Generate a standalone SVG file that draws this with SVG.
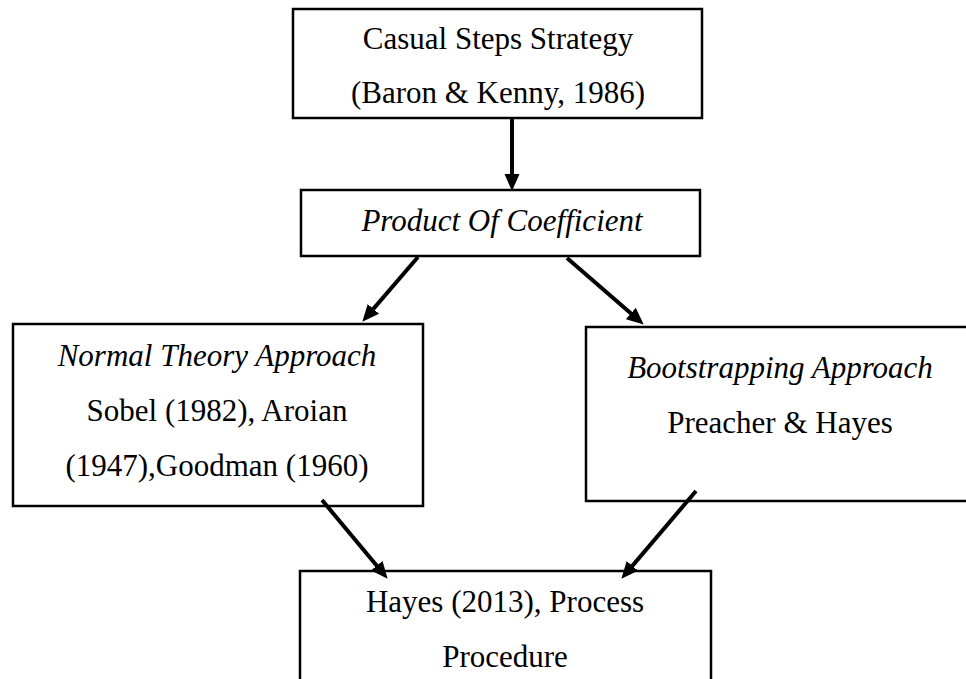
<svg xmlns="http://www.w3.org/2000/svg" width="966" height="679" viewBox="0 0 966 679">
<style>
.box{fill:#fff;stroke:#000;stroke-width:2.5}
.t{font-family:"Liberation Serif","Times New Roman",serif;font-size:31px;fill:#000;text-anchor:middle}
.i{font-style:italic}
.c{stroke:#000;stroke-width:4;fill:none}
</style>
<defs>
<marker id="ah" markerUnits="userSpaceOnUse" markerWidth="18" markerHeight="16" refX="4" refY="7.5" orient="auto" viewBox="0 0 18 15">
<path d="M0,0 L17,7.5 L0,15 z" fill="#000"/>
</marker>
</defs>
<rect width="966" height="679" fill="#fff"/>
<g id="n-casual">
<rect class="box" x="293" y="9" width="409" height="109"/>
<text class="t" x="498" y="49">Casual Steps Strategy</text>
<text class="t" x="498" y="103">(Baron &amp; Kenny, 1986)</text>
</g>
<g id="n-product">
<rect class="box" x="301" y="190" width="399" height="66"/>
<text class="t i" x="502" y="231">Product Of Coefficient</text>
</g>
<g id="n-normal">
<rect class="box" x="13" y="324" width="410" height="182"/>
<text class="t i" x="217" y="366">Normal Theory Approach</text>
<text class="t" x="217" y="421">Sobel (1982), Aroian</text>
<text class="t" x="217" y="476">(1947),Goodman (1960)</text>
</g>
<g id="n-boot">
<rect class="box" x="586" y="327" width="400" height="174"/>
<text class="t i" x="780" y="378">Bootstrapping Approach</text>
<text class="t" x="780" y="433">Preacher &amp; Hayes</text>
</g>
<g id="n-hayes">
<rect class="box" x="300" y="571" width="411" height="120"/>
<text class="t" x="505" y="612">Hayes (2013), Process</text>
<text class="t" x="505" y="667">Procedure</text>
</g>
<g id="connectors">
<line class="c" x1="512" y1="119" x2="512" y2="178" marker-end="url(#ah)"/>
<line class="c" x1="418" y1="257" x2="370.8" y2="311.9" marker-end="url(#ah)"/>
<line class="c" x1="567" y1="258" x2="633.9" y2="316.1" marker-end="url(#ah)"/>
<line class="c" x1="322" y1="500" x2="379.3" y2="568.8" marker-end="url(#ah)"/>
<line class="c" x1="696" y1="491" x2="629.8" y2="568.9" marker-end="url(#ah)"/>
</g>
</svg>
